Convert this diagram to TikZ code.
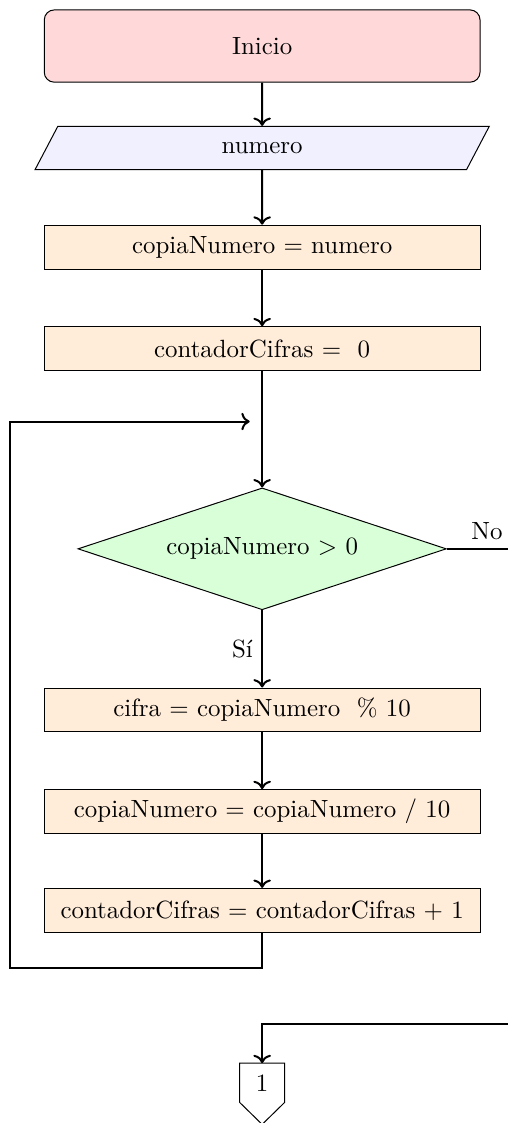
\documentclass[tikz,border=0pt]{standalone}
\usetikzlibrary{arrows.meta, positioning, shapes.geometric, calc}

\begin{document}
\begin{tikzpicture}[
    node distance=0.8cm,
    base/.style={draw, minimum width=6.15cm, minimum height=0.62cm, align=center},
    inicio/.style={base, rounded corners=4pt, minimum height=1.02cm, fill=red!15},
    entrada/.style={trapezium, trapezium left angle=51, trapezium right angle=129,
                    trapezium stretches body, draw, minimum width=6.41cm,
                    minimum height=0.61cm, fill=blue!6},
    proceso/.style={base, fill=orange!15},
    decision/.style={diamond, draw, aspect=3, minimum width=5.2cm,
                     minimum height=1.72cm, fill=green!15},
    conector/.style={minimum width=0.62cm, minimum height=0.54cm, inner sep=0pt},
    flecha/.style={->, thick}
  ]
  \useasboundingbox (-3.70,0.65) rectangle (3.46,-15.20);

  \node[inicio] (ini) at (0,0) {Inicio};
  \node[entrada, below=0.61cm of ini] (num) {numero};
  \node[proceso, below=0.77cm of num] (copia) {copiaNumero = numero};
  \node[proceso, below=of copia] (cont) {contadorCifras = \ 0};
  \node[decision, below=1.64cm of cont] (cond) {copiaNumero $>$ 0};
  \node[proceso, below=1.09cm of cond] (cifra) {cifra = copiaNumero \ \% 10};
  \node[proceso, below=of cifra] (div) {copiaNumero = copiaNumero / 10};
  \node[proceso, below=0.76cm of div] (incr) {contadorCifras = contadorCifras + 1};
  \node[conector, below=1.84cm of incr] (fin) {1};
  \draw (fin.north west) -- (fin.north east) -- (fin.south east)
    -- ([yshift=-0.31cm]fin.south) -- (fin.south west) -- cycle;

  \coordinate[below=0.71cm of cont] (join);
  \coordinate[below=0.49cm of incr] (back);
  \coordinate[above=0.55cm of fin] (merge);

  % flujo principal
  \draw[flecha] (ini) -- (num);
  \draw[flecha] (num) -- (copia);
  \draw[flecha] (copia) -- (cont);
  \draw[flecha] (cont) -- (cond);
  \draw[flecha] (cond) -- node[left] {Sí} (cifra);
  \draw[flecha] (cifra) -- (div);
  \draw[flecha] (div) -- (incr);

  % regreso del ciclo
  \draw[flecha, shorten >=5pt] (incr.south) -- (back)
    -| ([xshift=-0.48cm]incr.west) |- (join);

  % salida
  \draw[flecha] (cond.east) -- node[above] {No} ++(1.13cm,0) |- (merge) -- (fin.north);
\end{tikzpicture}
\end{document}
